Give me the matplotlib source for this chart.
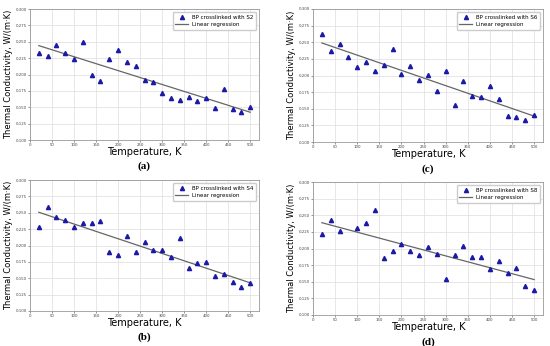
import matplotlib.pyplot as plt
import numpy as np

temp = np.arange(20, 501, 20)
temp_s8 = np.array([20, 40, 60, 100, 120, 140, 160, 180, 200, 220, 240, 260, 280,
                    300, 320, 340, 360, 380, 400, 420, 440, 460, 480, 500])

k_s2 = [0.2327, 0.2276, 0.2444, 0.2330, 0.2230, 0.2495, 0.2000, 0.1900, 0.2240,
        0.2378, 0.2190, 0.2133, 0.1918, 0.1878, 0.1724, 0.1648, 0.1610, 0.1663,
        0.1597, 0.1638, 0.1495, 0.1780, 0.1474, 0.1434, 0.1510]
k_s4 = [0.2289, 0.2591, 0.2442, 0.2386, 0.2289, 0.2350, 0.2350, 0.2376, 0.1905,
        0.1854, 0.2150, 0.1905, 0.2059, 0.1926, 0.1936, 0.1824, 0.2115, 0.1655,
        0.1726, 0.1742, 0.1532, 0.1568, 0.1445, 0.1373, 0.1430]
k_s6 = [0.2630, 0.2366, 0.2472, 0.2274, 0.2127, 0.2203, 0.2071, 0.2157, 0.2396,
        0.2025, 0.2147, 0.1929, 0.2000, 0.1772, 0.2066, 0.1563, 0.1919, 0.1695,
        0.1675, 0.1838, 0.1645, 0.1396, 0.1370, 0.1335, 0.1411]
k_s8 = [0.2213, 0.2424, 0.2263, 0.2303, 0.2383, 0.2579, 0.1862, 0.1967, 0.2068,
        0.1957, 0.1897, 0.2018, 0.1922, 0.1541, 0.1907, 0.2033, 0.1867, 0.1867,
        0.1692, 0.1812, 0.1632, 0.1702, 0.1436, 0.1381]

panels = [
    ("S2", temp, k_s2, "(a)", [30/550, 1-140/346, 229/550, 131/346]),
    ("S6", temp, k_s6, "(c)", [313/550, 1-142/346, 230/550, 133/346]),
    ("S4", temp, k_s4, "(b)", [30/550, 1-311/346, 229/550, 131/346]),
    ("S8", temp_s8, k_s8, "(d)", [313/550, 1-315/346, 230/550, 133/346]),
]

fig = plt.figure(figsize=(5.5, 3.46), dpi=100)

for name, x, y, cap, rect in panels:
    ax = fig.add_axes(rect)
    x = np.asarray(x)
    y = np.asarray(y)
    ax.plot(x, y, linestyle="none", marker="^", color="#1a1aa6", markersize=3,
            label="BP crosslinked with " + name, zorder=3)
    p = np.polyfit(x, y, 1)
    ax.plot(x, np.polyval(p, x), color="#666666", linewidth=0.9,
            label="Linear regression", zorder=2)
    ax.set_xlim(0, 520)
    ax.set_ylim(0.1, 0.3)
    ax.set_xticks(np.arange(0, 501, 50))
    ax.set_yticks(np.arange(0.1, 0.3001, 0.025))
    ax.yaxis.set_major_formatter(plt.FormatStrFormatter("%.3f"))
    ax.tick_params(labelsize=2.8, length=1.2, width=0.4, pad=1.2, colors="#444444")
    ax.grid(True, color="#dddddd", linewidth=0.5)
    for s in ax.spines.values():
        s.set_color("#999999")
        s.set_linewidth(0.6)
    ax.set_xlabel("Temperature, K", fontsize=7, labelpad=0)
    ax.set_ylabel("Thermal Conductivity, W/(m·K)", fontsize=6, labelpad=2)
    ax.legend(loc="upper right", fontsize=4, frameon=True, handlelength=2.2,
              borderpad=0.5, labelspacing=0.5, framealpha=1, edgecolor="#cccccc")
    ax.text(0.5, -0.165, cap, transform=ax.transAxes, ha="center", va="top",
            fontsize=8, fontweight="bold", family="Liberation Serif")

fig.savefig("out.png", dpi=100)
